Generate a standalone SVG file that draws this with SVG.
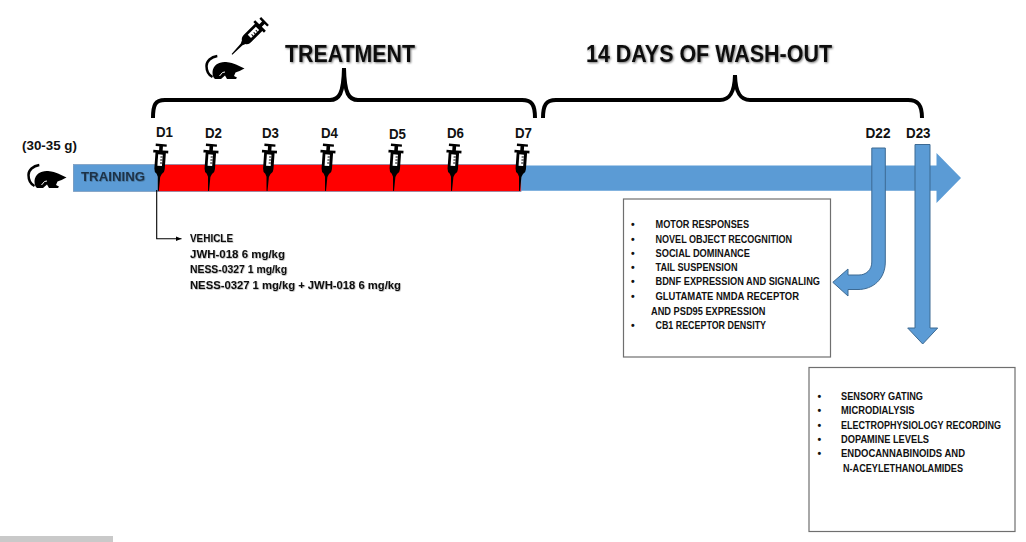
<svg xmlns="http://www.w3.org/2000/svg" width="1026" height="542" viewBox="0 0 1026 542">
<style>
text{font-family:"Liberation Sans",Arial,sans-serif;font-weight:700;fill:#111}
.day{font-size:14px}
.title{font-size:23px;filter:url(#sh)}
.list{font-size:10.5px}
.dose{font-size:11.5px;filter:url(#sf)}
.box{fill:#fff;stroke:#6f6f6f;stroke-width:1.2}
.brace{fill:none;stroke:#000;stroke-width:4}
.arrow{fill:#5b9bd5;stroke:#3d6a93;stroke-width:1}
</style>
<defs>
<filter id="sh" x="-5%" y="-20%" width="110%" height="150%"><feDropShadow dx="1" dy="1" stdDeviation="0.8" flood-color="#000" flood-opacity="0.55"/></filter>
<filter id="sf" x="-5%" y="-20%" width="110%" height="150%"><feDropShadow dx="0.6" dy="0.6" stdDeviation="0.5" flood-color="#000" flood-opacity="0.35"/></filter>
<marker id="tip" viewBox="0 0 6 6" refX="6" refY="3" markerWidth="6" markerHeight="6" orient="auto" markerUnits="userSpaceOnUse"><path d="M0 0.5L6 3L0 5.5Z" fill="#000"/></marker>
<g id="syringe">
<path d="M-5.5 0H5.5V2.4H1.8V6.3H7.5V9H5.2V25Q5.2 28.5 2.6 30L1.2 33L0.8 47H-0.2L-1.2 33L-2.6 30Q-5.2 28.5 -5.2 25V9H-7.5V6.3H-1.8V2.4H-5.5Z" fill="#000"/>
<path d="M-2.4 10.5H2.2V22H-2.4Z" fill="#fff"/>
<path d="M0 13H2.2M0 16H2.2M0 19H2.2" stroke="#000" stroke-width="1"/>
</g>
<g id="mouse">
<path d="M12.3 1C6 2 1.5 6 1.5 11C1.5 16 3.5 20 7.5 22" fill="none" stroke="#000" stroke-width="2.5"/>
<path d="M7.5 17C8 10 14 6.5 21 7C26 7.5 28 8.5 31 9.5L39.5 13.5C36 15.5 33 16.5 30.5 17.5L29 21L32 22.5L31 24H22L20 20.5L16 24H10C8 22.5 7.5 20 7.5 17Z" fill="#000"/>
<path d="M14.5 21L17.5 17.5L20 17" fill="none" stroke="#fff" stroke-width="1"/>
</g>
</defs>
<rect width="1026" height="542" fill="#fff"/>

<g id="timeline">
<path class="arrow" style="stroke:none" d="M73 165.5H936.5V153L961 178L936.5 203V190.7H73Z"/>
<rect x="73.5" y="164.5" width="85" height="27" fill="#5b9bd5" stroke="#7f9fc0" stroke-width="0.8"/>
<rect x="158" y="164.5" width="363" height="27" fill="#ff0000" stroke="#8a8aa8" stroke-width="0.8"/>
<text x="81" y="181" font-size="13.5" textLength="64" lengthAdjust="spacingAndGlyphs" style="fill:#1f3347;filter:url(#sf)">TRAINING</text>
</g>

<g id="connectors">
<path d="M156.7 190V238.8H181.5" fill="none" stroke="#000" stroke-width="1.1" marker-end="url(#tip)"/>
<path class="arrow" d="M871.8 148H885.3V262C885.3 279 873 289.5 858 289.5H848V296L832.8 282.3L848 269V275H859C866 275 871.8 270 871.8 262Z"/>
<path class="arrow" d="M915 144.5H930V328H937.7L922.7 344L907.7 328H915Z"/>
</g>

<g id="brace-treatment"><path class="brace" d="M153 118C153 105 155 100 165 100H330C339 100 343.5 94 344 68C344.5 94 349 100 358 100H522C532 100 535 105 535 118"/><text class="title" x="285" y="62" textLength="130" lengthAdjust="spacingAndGlyphs">TREATMENT</text></g>
<g id="brace-washout"><path class="brace" d="M543 118C543 105 546 100 556 100H720C729 100 734.5 94 735 75C735.5 94 741 100 750 100H908C918 100 922 105 922 118"/><text class="title" x="586" y="62" textLength="246" lengthAdjust="spacingAndGlyphs">14 DAYS OF WASH-OUT</text></g>

<g id="treatment-icon">
<use href="#syringe" transform="translate(265 21) rotate(45)"/>
<use href="#mouse" transform="translate(205 55)"/>
</g>
<g id="start-mouse">
<use href="#mouse" transform="translate(27 164)"/>
<text x="22" y="150" font-size="13" textLength="55" lengthAdjust="spacingAndGlyphs">(30-35 g)</text>
</g>

<g id="d1"><text class="day" x="156" y="137" textLength="17" lengthAdjust="spacingAndGlyphs">D1</text><use href="#syringe" transform="translate(161.3 144) rotate(4)"/></g>
<g id="d2"><text class="day" x="205" y="138" textLength="17" lengthAdjust="spacingAndGlyphs">D2</text><use href="#syringe" transform="translate(211.5 144) rotate(4)"/></g>
<g id="d3"><text class="day" x="262" y="138" textLength="17" lengthAdjust="spacingAndGlyphs">D3</text><use href="#syringe" transform="translate(270 144) rotate(4)"/></g>
<g id="d4"><text class="day" x="321" y="138" textLength="17" lengthAdjust="spacingAndGlyphs">D4</text><use href="#syringe" transform="translate(328.5 144) rotate(4)"/></g>
<g id="d5"><text class="day" x="389" y="139" textLength="17" lengthAdjust="spacingAndGlyphs">D5</text><use href="#syringe" transform="translate(396.5 144) rotate(4)"/></g>
<g id="d6"><text class="day" x="447" y="138" textLength="17" lengthAdjust="spacingAndGlyphs">D6</text><use href="#syringe" transform="translate(454.5 144) rotate(4)"/></g>
<g id="d7"><text class="day" x="515" y="138" textLength="17" lengthAdjust="spacingAndGlyphs">D7</text><use href="#syringe" transform="translate(522.5 144) rotate(4)"/></g>
<g id="d22"><text class="day" x="865.5" y="138" textLength="25" lengthAdjust="spacingAndGlyphs">D22</text></g>
<g id="d23"><text class="day" x="906" y="138" textLength="24.5" lengthAdjust="spacingAndGlyphs">D23</text></g>

<g id="doses">
<text class="dose" x="190" y="242" textLength="43" lengthAdjust="spacingAndGlyphs">VEHICLE</text>
<text class="dose" x="190" y="258" textLength="95" lengthAdjust="spacingAndGlyphs">JWH-018 6 mg/kg</text>
<text class="dose" x="190" y="273" textLength="97" lengthAdjust="spacingAndGlyphs">NESS-0327 1 mg/kg</text>
<text class="dose" x="190" y="289" textLength="211" lengthAdjust="spacingAndGlyphs">NESS-0327 1 mg/kg + JWH-018 6 mg/kg</text>
</g>

<g id="box-d22">
<rect class="box" x="623.5" y="199" width="207" height="158"/>
<text class="list" x="631" y="228">•</text><text class="list" x="655.5" y="228" textLength="93.5" lengthAdjust="spacingAndGlyphs">MOTOR RESPONSES</text>
<text class="list" x="631" y="243">•</text><text class="list" x="655.5" y="243" textLength="136.5" lengthAdjust="spacingAndGlyphs">NOVEL OBJECT RECOGNITION</text>
<text class="list" x="631" y="257">•</text><text class="list" x="655.5" y="257" textLength="94.5" lengthAdjust="spacingAndGlyphs">SOCIAL DOMINANCE</text>
<text class="list" x="631" y="271">•</text><text class="list" x="655.5" y="271" textLength="82" lengthAdjust="spacingAndGlyphs">TAIL SUSPENSION</text>
<text class="list" x="631" y="285">•</text><text class="list" x="655.5" y="285" textLength="164.5" lengthAdjust="spacingAndGlyphs">BDNF EXPRESSION AND SIGNALING</text>
<text class="list" x="631" y="300">•</text><text class="list" x="655.5" y="300" textLength="143.5" lengthAdjust="spacingAndGlyphs">GLUTAMATE NMDA RECEPTOR</text>
<text class="list" x="651" y="314.5" textLength="114.5" lengthAdjust="spacingAndGlyphs">AND PSD95 EXPRESSION</text>
<text class="list" x="631" y="328.5">•</text><text class="list" x="655.5" y="328.5" textLength="110.5" lengthAdjust="spacingAndGlyphs">CB1 RECEPTOR DENSITY</text>
</g>

<g id="box-d23">
<rect class="box" x="809" y="367.5" width="206" height="164"/>
<text class="list" x="817.5" y="400">•</text><text class="list" x="841" y="400" textLength="82" lengthAdjust="spacingAndGlyphs">SENSORY GATING</text>
<text class="list" x="817.5" y="414">•</text><text class="list" x="841" y="414" textLength="73.5" lengthAdjust="spacingAndGlyphs">MICRODIALYSIS</text>
<text class="list" x="817.5" y="429">•</text><text class="list" x="841" y="429" textLength="160" lengthAdjust="spacingAndGlyphs">ELECTROPHYSIOLOGY RECORDING</text>
<text class="list" x="817.5" y="443">•</text><text class="list" x="841" y="443" textLength="88" lengthAdjust="spacingAndGlyphs">DOPAMINE LEVELS</text>
<text class="list" x="817.5" y="457">•</text><text class="list" x="841" y="457" textLength="124" lengthAdjust="spacingAndGlyphs">ENDOCANNABINOIDS AND</text>
<text class="list" x="843" y="471.5" textLength="120" lengthAdjust="spacingAndGlyphs">N-ACEYLETHANOLAMIDES</text>
</g>

<rect id="bottom-strip" x="0" y="536" width="113" height="6" fill="#c9c9c9"/>
</svg>
